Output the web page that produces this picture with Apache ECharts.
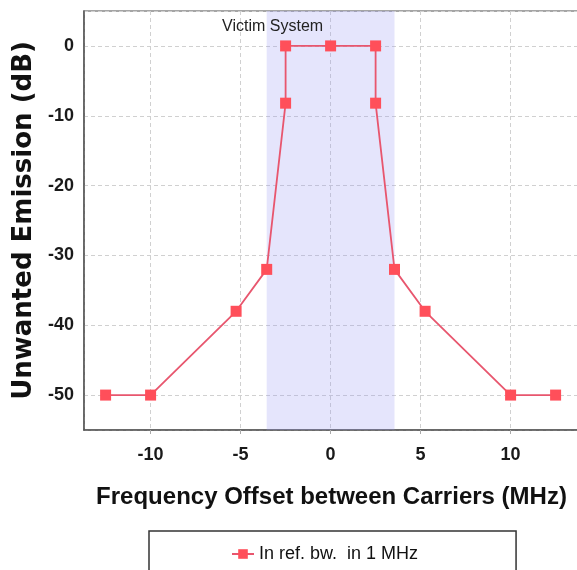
<!DOCTYPE html>
<html><head><meta charset="utf-8">
<script src="https://cdn.jsdelivr.net/npm/echarts@6/dist/echarts.min.js"></script>
<style>html,body{margin:0;padding:0;background:#fff}#c{width:577px;height:570px}</style>
</head><body><div id="c"></div>
<script>
const freqOffset = [-12.5, -10, -5.25, -3.55, -2.5, -2.5, 0, 2.5, 2.5, 3.55, 5.25, 10, 12.5];
const emission   = [-50, -50, -38, -32, -8.2, 0, 0, 0, -8.2, -32, -38, -50, -50];
const victimBand = [-3.55, 3.55];
const seriesName = 'In ref. bw.  in 1 MHz';
const bandLabel = 'Victim System';
const xTitle = 'Frequency Offset between Carriers (MHz)';
const yTitle = 'Unwanted Emission (dB)';

const chart = echarts.init(document.getElementById('c'), null, {renderer:'canvas'});
const axisLab = {fontFamily:'Liberation Sans, Arial', fontWeight:'bold', fontSize:18, color:'#1a1a1a'};
chart.setOption({
  animation:false,
  backgroundColor:'#fff',
  grid:{left:84, top:11, right:-2, bottom:140, outerBoundsMode:'none', containLabel:false,
    show:true, borderColor:'#888', borderWidth:1.5, backgroundColor:'transparent'},
  xAxis:{type:'value', min:-13.7, max:13.8, name:xTitle, nameLocation:'middle', nameGap:55,
    nameTextStyle:{fontFamily:'Liberation Sans, Arial', fontWeight:'bold', fontSize:24, color:'#111'},
    axisLine:{show:true, onZero:false, lineStyle:{color:'#555', width:1.5}},
    axisTick:{show:true, length:4, lineStyle:{color:'#aaa'}},
    axisLabel:Object.assign({margin:16, showMinLabel:false, showMaxLabel:false}, axisLab),
    splitLine:{show:true, lineStyle:{color:'#d0d0d0', type:[4,3], width:1}}},
  yAxis:{type:'value', min:-55, max:5, name:yTitle, nameLocation:'middle', nameGap:47,
    nameTextStyle:{fontFamily:'DejaVu Sans, Liberation Sans', fontWeight:'bold', fontSize:26, color:'#111'},
    axisLine:{show:true, onZero:false, lineStyle:{color:'#555', width:1.5}},
    axisTick:{show:false},
    axisLabel:Object.assign({margin:10, showMinLabel:false, showMaxLabel:false}, axisLab),
    splitLine:{show:true, lineStyle:{color:'#d0d0d0', type:[4,3], width:1}}},
  legend:{left:149, top:531, padding:[14,98,40,82], borderColor:'#333', borderWidth:1.5,
    itemWidth:22, itemHeight:12, itemGap:5,
    textStyle:{fontFamily:'Liberation Sans, Arial', fontSize:18, color:'#111'},
    data:[seriesName]},
  series:[
    {name:seriesName, type:'line', z:2, data:freqOffset.map((x,i)=>[x, emission[i]]),
      symbol:'rect', symbolSize:11, itemStyle:{color:'#ff4f5a'},
      lineStyle:{color:'#e8566e', width:1.8}},
    {name:'band', type:'line', z:5, data:[], silent:true,
      markArea:{silent:true, itemStyle:{color:'rgba(150,150,245,0.25)'},
        label:{show:true, position:'insideTop', offset:[-58,3], fontFamily:'Liberation Sans, Arial', fontSize:16, color:'#222'},
        data:[[{xAxis:victimBand[0], name:bandLabel},{xAxis:victimBand[1]}]]}}
  ]
});
</script></body></html>
